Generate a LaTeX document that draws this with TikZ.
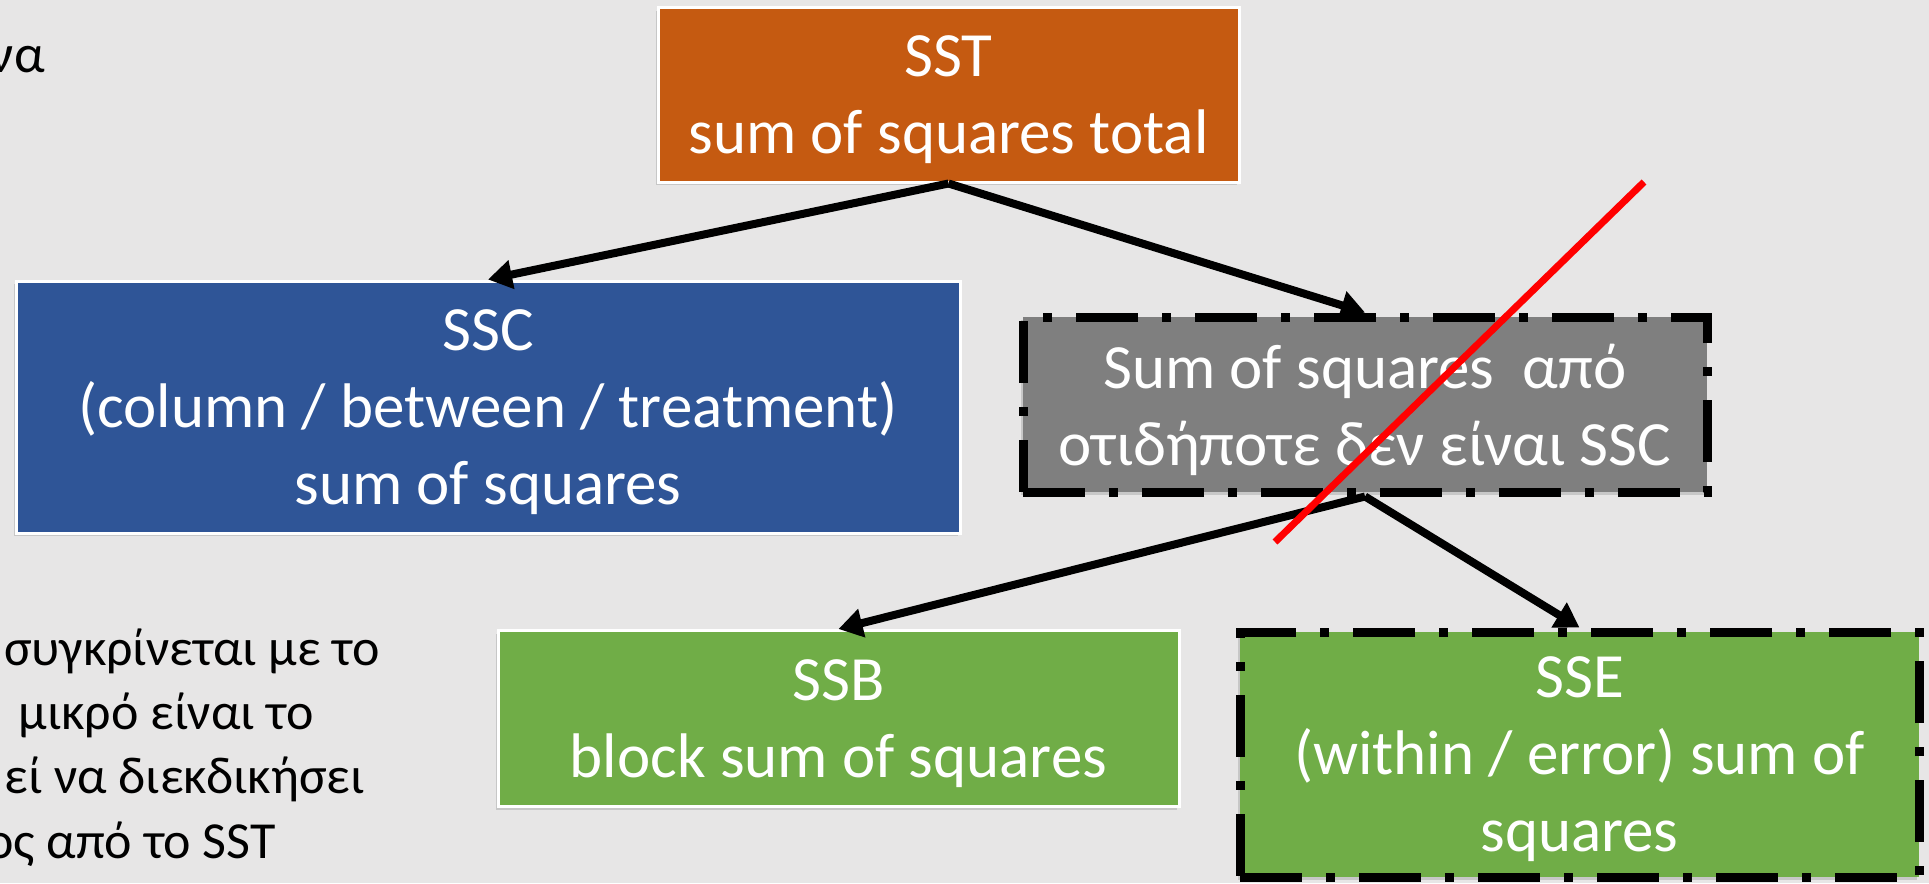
\documentclass[tikz,border=0pt]{standalone}
\usepackage{fontspec}
\setmainfont{Carlito}
\usetikzlibrary{arrows.meta,shadows}
\definecolor{bgcol}{HTML}{E7E6E6}
\definecolor{sstcol}{HTML}{C55A11}
\definecolor{ssccol}{HTML}{2F5597}
\definecolor{restcol}{HTML}{7F7F7F}
\definecolor{ssbcol}{HTML}{70AD47}
\begin{document}
\begin{tikzpicture}[x=1pt,y=-1pt,
 sumbox/.style={shape=rectangle,draw=white,line width=3pt,inner sep=0pt,align=center,text=white,font=\fontsize{63}{77}\selectfont,text depth=0pt,drop shadow={shadow xshift=-2pt,shadow yshift=-3pt,opacity=0.3}},
 dashbox/.style={sumbox,draw=black,line width=9pt,dash pattern=on 62pt off 24pt on 9pt off 24pt},
 arr/.style={line width=8pt,-{Triangle[length=24pt,width=28pt]}},
 note/.style={anchor=base east,inner sep=0pt,font=\fontsize{52}{61}\selectfont}]
 \fill[bgcol] (0,0) rectangle (1929,883);
 \useasboundingbox (0,0) rectangle (1929,883);
 % boxes
 \node (box sst) at (948.5,95) [sumbox,fill=sstcol,minimum width=581pt,minimum height=174pt] {SST\\sum of squares total};
 \node (box ssc) at (488,407) [sumbox,fill=ssccol,minimum width=944pt,minimum height=252pt] {SSC\\(column / between / treatment)\\sum of squares};
 \node (box rest) at (1365,404.5) [dashbox,fill=restcol,minimum width=684pt,minimum height=175pt,drop shadow={opacity=0}] {Sum of squares\ \ από\\οτιδήποτε δεν είναι SSC};
 \node (box ssb) at (838.5,718.5) [sumbox,fill=ssbcol,minimum width=681pt,minimum height=176pt] {SSB\\block sum of squares};
 \node (box sse) at (1579.5,754.5) [dashbox,fill=ssbcol,minimum width=679pt,minimum height=245pt] {SSE\\(within / error) sum of\\squares};
 % text beside the boxes
 \node (note top) at (45,73) [note,font=\fontsize{54}{66}\selectfont] {να};
 \node (note 1) at (380,665) [note] {συγκρίνεται με το};
 \node (note 2) at (314,729) [note] {μικρό είναι το};
 \node (note 3) at (365,793) [note] {εί να διεκδικήσει};
 \node (note 4) at (276,858) [note] {ος από το SST};
 % arrows
 \draw[arr] (box sst.south) -- (box ssc.north);
 \draw[arr] (box sst.south) -- (box rest.north);
 \draw[arr] (box rest.south) -- (box ssb.north);
 \draw[arr] (box rest.south) -- (box sse.north);
 % red cross-out
 \coordinate (cross top) at (1644,182);
 \coordinate (cross bottom) at (1275,542);
 \draw[red,line width=7pt] (cross top) -- (cross bottom);
\end{tikzpicture}
\end{document}
